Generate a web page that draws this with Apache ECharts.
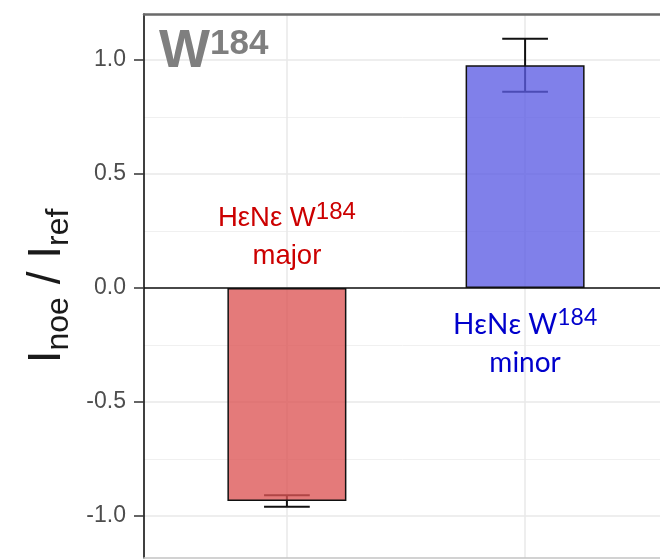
<!DOCTYPE html>
<html>
<head>
<meta charset="utf-8">
<script src="https://cdn.jsdelivr.net/npm/echarts@6/dist/echarts.min.js"></script>
<style>
  html, body { margin: 0; padding: 0; background: #fff; }
  #chart { width: 660px; height: 560px; }
</style>
</head>
<body>
<div id="chart"></div>
<script>
// Normalised NOE intensity for the two W184 HεNε peaks
const categories = ['HεNε W184 major', 'HεNε W184 minor'];
const categoryPos = [1, 2];
const ratioMean = [-0.934, 0.977];
const ratioErr = [0.025, 0.116];
const yTickValues = [-1.0, -0.5, 0.0, 0.5, 1.0];
const yMinorValues = [-0.75, -0.25, 0.25, 0.75];

const barFill = ['rgba(221,84,84,0.78)', 'rgba(92,92,228,0.78)'];
const labelColor = ['#cc0000', '#0000cc'];
const labelFont = ['"Liberation Sans", Arial, sans-serif', 'Lato, sans-serif'];
const labelSize = [27.5, 28];
const supSize = [24, 23];
const labelY = [0.22, -0.245];

const chart = echarts.init(document.getElementById('chart'), null, { renderer: 'canvas' });

const barData = categoryPos.map((x, i) => ({
  value: [x, ratioMean[i]],
  itemStyle: { color: barFill[i] }
}));
const errData = categoryPos.map((x, i) => [x, ratioMean[i] - ratioErr[i], ratioMean[i] + ratioErr[i]]);
const labelData = categoryPos.map((x, i) => ({
  value: [x, labelY[i]],
  label: {
    color: labelColor[i],
    opacity: 1,
    rich: {
      a: { fontSize: labelSize[i], fontFamily: labelFont[i], color: labelColor[i], lineHeight: 38 },
      sup: { fontSize: supSize[i], fontFamily: labelFont[i], color: labelColor[i], lineHeight: 38, padding: [0, 0, 14, 0] }
    },
    formatter: () => {
      const parts = categories[i].split(' ');
      const tag = parts[1].replace(/\d+/, '');
      const num = parts[1].replace(/\D+/, '');
      return '{a|' + parts[0] + ' ' + tag + '}{sup|' + num + '}\n{a|' + parts[2] + '}';
    }
  }
}));

const option = {
  animation: false,
  backgroundColor: '#ffffff',
  title: {
    text: '{w|W}{s|184}',
    left: 154,
    top: 21,
    textStyle: {
      rich: {
        w: { fontSize: 54, fontWeight: 'bold', color: '#7f7f7f', fontFamily: '"Liberation Sans", Arial, sans-serif', lineHeight: 52 },
        s: { fontSize: 35, fontWeight: 'bold', color: '#7f7f7f', fontFamily: '"Liberation Sans", Arial, sans-serif', lineHeight: 52, padding: [0, 0, 16, 0] }
      }
    }
  },
  grid: { left: 144, top: 14, width: 524, height: 544, show: false, outerBoundsMode: 'none', containLabel: false },
  xAxis: [
    {
      type: 'value', position: 'bottom', min: 0.4, max: 2.6,
      axisLine: { show: true, onZero: false, lineStyle: { color: '#c4c4c4', width: 1.5 } },
      axisTick: { show: false, customValues: categoryPos },
      axisLabel: { show: false, customValues: categoryPos },
      splitLine: { show: true, customValues: categoryPos, lineStyle: { color: '#e8e8e8', width: 1.5 } }
    },
    {
      type: 'value', position: 'top', min: 0.4, max: 2.6,
      axisLine: { show: true, onZero: false, lineStyle: { color: '#6a6a6a', width: 2.5 } },
      axisTick: { show: false }, axisLabel: { show: false }, splitLine: { show: false }
    }
  ],
  yAxis: [
    {
      type: 'value', min: -1.184, max: 1.202,
      name: '{m|I}{s|noe}{m| / I}{s|ref}',
      nameLocation: 'middle', nameRotate: 90, nameGap: 68,
      nameTextStyle: {
        rich: {
          m: { fontSize: 46, color: '#1a1a1a', fontFamily: '"Liberation Sans", Arial, sans-serif', verticalAlign: 'middle' },
          s: { fontSize: 32, color: '#1a1a1a', fontFamily: '"Liberation Sans", Arial, sans-serif', verticalAlign: 'middle', padding: [24, 0, 0, 0] }
        }
      },
      axisLine: { show: true, onZero: false, lineStyle: { color: '#000', width: 1.5 } },
      axisTick: { show: true, length: 10, customValues: yTickValues, lineStyle: { color: '#333', width: 1.5 } },
      axisLabel: {
        customValues: yTickValues, margin: 18, fontSize: 23, color: '#4d4d4d',
        fontFamily: '"Liberation Sans", Arial, sans-serif',
        formatter: v => v.toFixed(1)
      },
      splitLine: { show: true, customValues: yTickValues, lineStyle: { color: '#e8e8e8', width: 1.5 } }
    },
    {
      type: 'value', min: -1.184, max: 1.202, position: 'left',
      axisLine: { show: false },
      axisTick: { show: false, customValues: yMinorValues },
      axisLabel: { show: false, customValues: yMinorValues },
      splitLine: { show: true, customValues: yMinorValues, lineStyle: { color: '#f0f0f0', width: 1 } }
    }
  ],
  series: [
    {
      type: 'custom',
      z: 1,
      xAxisIndex: 0, yAxisIndex: 0,
      data: errData,
      renderItem: (params, api) => {
        const x = api.value(0);
        const lo = api.coord([x, api.value(1)]);
        const hi = api.coord([x, api.value(2)]);
        const half = api.size([0.096, 0])[0];
        const style = { stroke: '#111', lineWidth: 2 };
        return {
          type: 'group',
          children: [
            { type: 'line', shape: { x1: lo[0], y1: lo[1], x2: hi[0], y2: hi[1] }, style },
            { type: 'line', shape: { x1: lo[0] - half, y1: lo[1], x2: lo[0] + half, y2: lo[1] }, style },
            { type: 'line', shape: { x1: hi[0] - half, y1: hi[1], x2: hi[0] + half, y2: hi[1] }, style }
          ]
        };
      }
    },
    {
      type: 'bar',
      z: 2,
      xAxisIndex: 0, yAxisIndex: 0,
      barWidth: 119,
      data: barData,
      itemStyle: { borderColor: '#111', borderWidth: 1.5 },
      markLine: {
        silent: true, symbol: 'none', z: 3,
        label: { show: false },
        lineStyle: { color: '#111', width: 1.5, type: 'solid' },
        data: [{ yAxis: 0 }]
      }
    },
    {
      type: 'scatter',
      z: 4,
      xAxisIndex: 0, yAxisIndex: 0,
      symbolSize: 1,
      itemStyle: { color: 'rgba(0,0,0,0)', opacity: 1 },
      label: { show: true, position: 'inside', align: 'center', opacity: 1, textBorderWidth: 0 },
      data: labelData
    }
  ]
};

chart.setOption(option);
</script>
</body>
</html>
